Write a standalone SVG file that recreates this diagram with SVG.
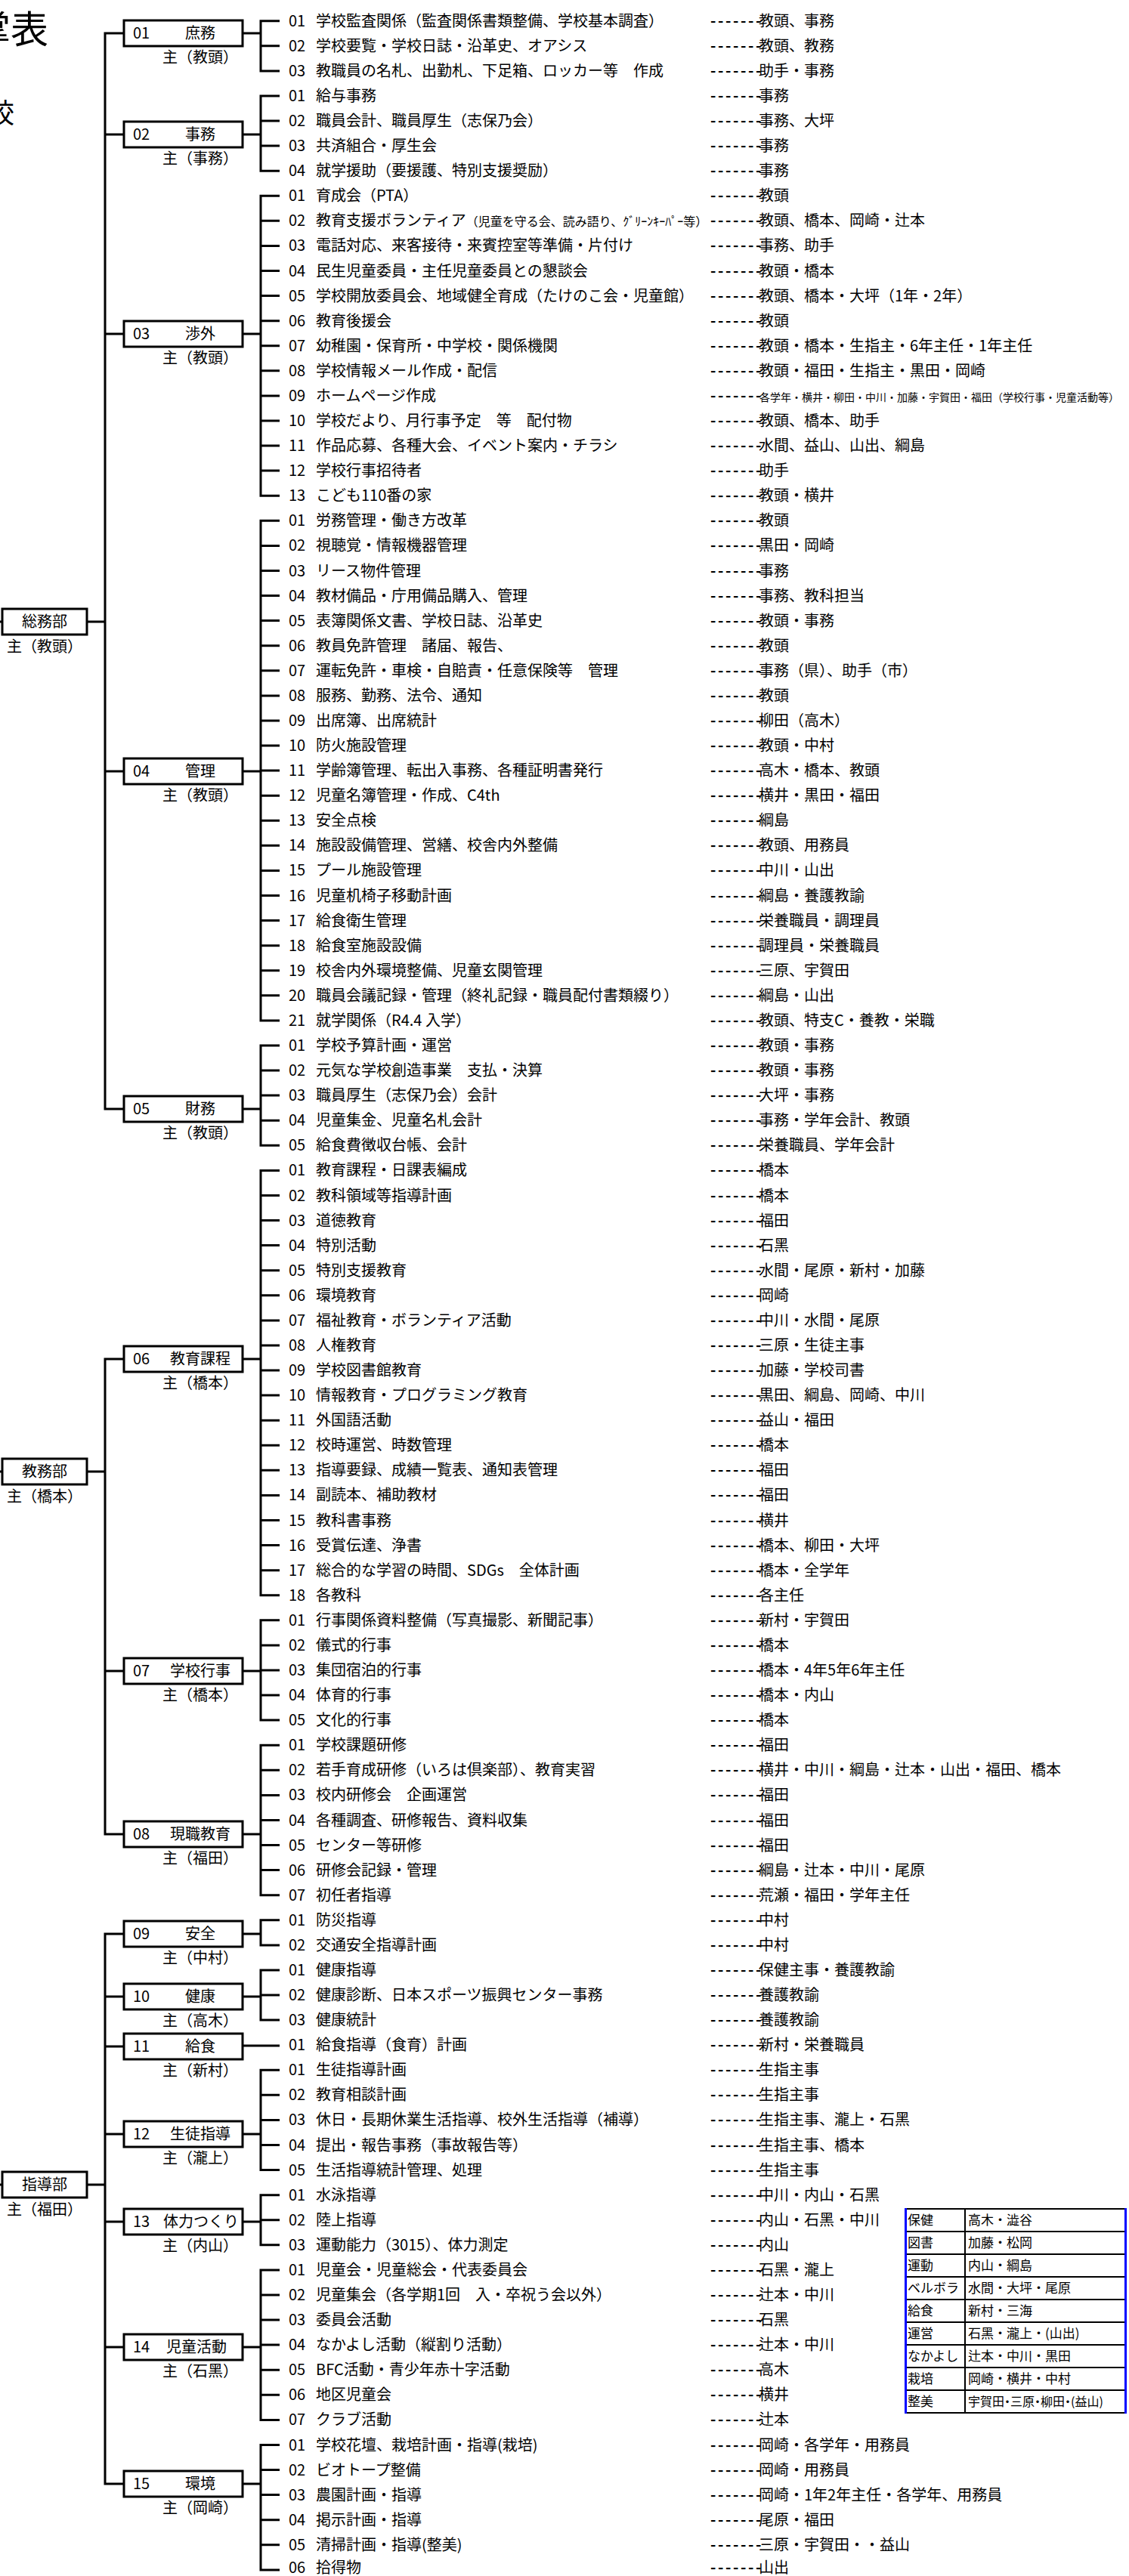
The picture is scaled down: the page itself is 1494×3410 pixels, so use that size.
<svg xmlns="http://www.w3.org/2000/svg" width="1494" height="3410" viewBox="0 0 1494 3410">
<style>
text{font-family:"Noto Sans CJK JP","Noto Sans",sans-serif;fill:#000}
.t,.p,.bx,.lb{font-size:20px}
.sm{font-size:16px}
.xs{font-size:14px}
.d{font-weight:bold;letter-spacing:2.6px}
.mid{text-anchor:middle}
.box{fill:#fff;stroke:#000;stroke-width:3}
.ln{fill:none;stroke:#000;stroke-width:3}
.lg{font-size:17px}
.pa{font-feature-settings:"palt" 1;font-size:16px}
</style>
<rect width="1494" height="3410" fill="#fff"/>
<g id="title">
<text x="64" y="57" font-size="50" text-anchor="end">掌表</text>
<text x="19" y="163" font-size="36" text-anchor="end">校</text>
</g>
<g id="connectors" class="ln">
<path d="M-2,823H3 M-2,1948H3 M-2,2892H3"/>
<path d="M115,823H139 M164,44H139V1468H164 M139,178H164 M139,442H164 M139,1021H164"/>
<path d="M115,1948H139 M164,1799H139V2428H164 M139,2212H164"/>
<path d="M115,2892H139 M164,2560H139V3288H164 M139,2643H164 M139,2709H164 M139,2825H164 M139,2941H164 M139,3107H164"/>
<path d="M370,27.7H345V93.9H370 M345,60.8h25 M321,44H345"/>
<path d="M370,126.9H345V226.2H370 M345,160h25 M345,193.1h25 M321,178H345"/>
<path d="M370,259.3H345V656.2H370 M345,292.3h25 M345,325.4h25 M345,358.5h25 M345,391.6h25 M345,424.7h25 M345,457.7h25 M345,490.8h25 M345,523.9h25 M345,557h25 M345,590.1h25 M345,623.1h25 M321,442H345"/>
<path d="M370,689.3H345V1350.9H370 M345,722.4h25 M345,755.5h25 M345,788.5h25 M345,821.6h25 M345,854.7h25 M345,887.8h25 M345,920.9h25 M345,953.9h25 M345,987h25 M345,1020.1h25 M345,1053.2h25 M345,1086.3h25 M345,1119.3h25 M345,1152.4h25 M345,1185.5h25 M345,1218.6h25 M345,1251.7h25 M345,1284.7h25 M345,1317.8h25 M321,1021H345"/>
<path d="M370,1384H345V1516.3H370 M345,1417.1h25 M345,1450.1h25 M345,1483.2h25 M321,1468H345"/>
<path d="M370,1549.4H345V2111.7H370 M345,1582.5h25 M345,1615.5h25 M345,1648.6h25 M345,1681.7h25 M345,1714.8h25 M345,1747.9h25 M345,1780.9h25 M345,1814h25 M345,1847.1h25 M345,1880.2h25 M345,1913.3h25 M345,1946.3h25 M345,1979.4h25 M345,2012.5h25 M345,2045.6h25 M345,2078.7h25 M321,1799H345"/>
<path d="M370,2144.8H345V2277.1H370 M345,2177.9h25 M345,2211h25 M345,2244.1h25 M321,2212H345"/>
<path d="M370,2310.2H345V2508.7H370 M345,2343.3h25 M345,2376.4h25 M345,2409.5h25 M345,2442.5h25 M345,2475.6h25 M321,2428H345"/>
<path d="M370,2541.8H345V2574.9H370 M321,2560H345"/>
<path d="M370,2607.9H345V2674.1H370 M345,2641h25 M321,2643H345"/>
<path d="M321,2708H370"/>
<path d="M370,2740.3H345V2872.6H370 M345,2773.3h25 M345,2806.4h25 M345,2839.5h25 M321,2825H345"/>
<path d="M370,2905.7H345V2971.8H370 M345,2938.8h25 M321,2941H345"/>
<path d="M370,3004.9H345V3203.4H370 M345,3038h25 M345,3071.1h25 M345,3104.1h25 M345,3137.2h25 M345,3170.3h25 M321,3107H345"/>
<path d="M370,3236.5H345V3401.9H370 M345,3269.5h25 M345,3302.6h25 M345,3335.7h25 M345,3368.8h25 M321,3288H345"/>
</g>
<g id="dept-soumu"><rect class="box" x="3" y="806" width="112" height="34"/><text class="bx mid" x="59" y="830">総務部</text><text class="lb mid" x="59" y="863">主（教頭）</text></g>
<g id="dept-kyomu"><rect class="box" x="3" y="1931" width="112" height="34"/><text class="bx mid" x="59" y="1955">教務部</text><text class="lb mid" x="59" y="1988">主（橋本）</text></g>
<g id="dept-shido"><rect class="box" x="3" y="2875" width="112" height="34"/><text class="bx mid" x="59" y="2899">指導部</text><text class="lb mid" x="59" y="2932">主（福田）</text></g>
<g id="box-01"><rect class="box" x="164" y="27" width="157" height="34"/><text class="bx" x="176" y="51">01</text><text class="bx mid" x="265" y="51">庶務</text><text class="lb mid" x="265" y="83">主（教頭）</text></g>
<g id="box-02"><rect class="box" x="164" y="161" width="157" height="34"/><text class="bx" x="176" y="185">02</text><text class="bx mid" x="265" y="185">事務</text><text class="lb mid" x="265" y="217">主（事務）</text></g>
<g id="box-03"><rect class="box" x="164" y="425" width="157" height="34"/><text class="bx" x="176" y="449">03</text><text class="bx mid" x="265" y="449">渉外</text><text class="lb mid" x="265" y="481">主（教頭）</text></g>
<g id="box-04"><rect class="box" x="164" y="1004" width="157" height="34"/><text class="bx" x="176" y="1028">04</text><text class="bx mid" x="265" y="1028">管理</text><text class="lb mid" x="265" y="1060">主（教頭）</text></g>
<g id="box-05"><rect class="box" x="164" y="1451" width="157" height="34"/><text class="bx" x="176" y="1475">05</text><text class="bx mid" x="265" y="1475">財務</text><text class="lb mid" x="265" y="1507">主（教頭）</text></g>
<g id="box-06"><rect class="box" x="164" y="1782" width="157" height="34"/><text class="bx" x="176" y="1806">06</text><text class="bx mid" x="265" y="1806">教育課程</text><text class="lb mid" x="265" y="1838">主（橋本）</text></g>
<g id="box-07"><rect class="box" x="164" y="2195" width="157" height="34"/><text class="bx" x="176" y="2219">07</text><text class="bx mid" x="265" y="2219">学校行事</text><text class="lb mid" x="265" y="2251">主（橋本）</text></g>
<g id="box-08"><rect class="box" x="164" y="2411" width="157" height="34"/><text class="bx" x="176" y="2435">08</text><text class="bx mid" x="265" y="2435">現職教育</text><text class="lb mid" x="265" y="2467">主（福田）</text></g>
<g id="box-09"><rect class="box" x="164" y="2543" width="157" height="34"/><text class="bx" x="176" y="2567">09</text><text class="bx mid" x="265" y="2567">安全</text><text class="lb mid" x="265" y="2599">主（中村）</text></g>
<g id="box-10"><rect class="box" x="164" y="2626" width="157" height="34"/><text class="bx" x="176" y="2650">10</text><text class="bx mid" x="265" y="2650">健康</text><text class="lb mid" x="265" y="2682">主（高木）</text></g>
<g id="box-11"><rect class="box" x="164" y="2692" width="157" height="34"/><text class="bx" x="176" y="2716">11</text><text class="bx mid" x="265" y="2716">給食</text><text class="lb mid" x="265" y="2748">主（新村）</text></g>
<g id="box-12"><rect class="box" x="164" y="2808" width="157" height="34"/><text class="bx" x="176" y="2832">12</text><text class="bx mid" x="265" y="2832">生徒指導</text><text class="lb mid" x="265" y="2864">主（瀧上）</text></g>
<g id="box-13"><rect class="box" x="164" y="2924" width="157" height="34"/><text class="bx" x="176" y="2948">13</text><text class="bx mid" x="266" y="2948">体力つくり</text><text class="lb mid" x="265" y="2980">主（内山）</text></g>
<g id="box-14"><rect class="box" x="164" y="3090" width="157" height="34"/><text class="bx" x="176" y="3114">14</text><text class="bx mid" x="260" y="3114">児童活動</text><text class="lb mid" x="265" y="3146">主（石黑）</text></g>
<g id="box-15"><rect class="box" x="164" y="3271" width="157" height="34"/><text class="bx" x="176" y="3295">15</text><text class="bx mid" x="265" y="3295">環境</text><text class="lb mid" x="265" y="3327">主（岡崎）</text></g>
<g id="tasks">
<text class="t" y="34.7"><tspan x="382">01</tspan><tspan x="418">学校監査関係（監査関係書類整備、学校基本調査）</tspan></text>
<text class="t" y="67.8"><tspan x="382">02</tspan><tspan x="418">学校要覧・学校日誌・沿革史、オアシス</tspan></text>
<text class="t" y="100.9"><tspan x="382">03</tspan><tspan x="418">教職員の名札、出勤札、下足箱、ロッカー等　作成</tspan></text>
<text class="t" y="133.9"><tspan x="382">01</tspan><tspan x="418">給与事務</tspan></text>
<text class="t" y="167"><tspan x="382">02</tspan><tspan x="418">職員会計、職員厚生（志保乃会）</tspan></text>
<text class="t" y="200.1"><tspan x="382">03</tspan><tspan x="418">共済組合・厚生会</tspan></text>
<text class="t" y="233.2"><tspan x="382">04</tspan><tspan x="418">就学援助（要援護、特別支援奨励）</tspan></text>
<text class="t" y="266.3"><tspan x="382">01</tspan><tspan x="418">育成会（PTA）</tspan></text>
<text class="t" y="299.3"><tspan x="382">02</tspan><tspan x="418">教育支援ボランティア</tspan><tspan class="sm">（児童を守る会、読み語り、ｸﾞﾘｰﾝｷｰﾊﾟｰ等）</tspan></text>
<text class="t" y="332.4"><tspan x="382">03</tspan><tspan x="418">電話対応、来客接待・来賓控室等準備・片付け</tspan></text>
<text class="t" y="365.5"><tspan x="382">04</tspan><tspan x="418">民生児童委員・主任児童委員との懇談会</tspan></text>
<text class="t" y="398.6"><tspan x="382">05</tspan><tspan x="418">学校開放委員会、地域健全育成（たけのこ会・児童館）</tspan></text>
<text class="t" y="431.7"><tspan x="382">06</tspan><tspan x="418">教育後援会</tspan></text>
<text class="t" y="464.7"><tspan x="382">07</tspan><tspan x="418">幼稚園・保育所・中学校・関係機関</tspan></text>
<text class="t" y="497.8"><tspan x="382">08</tspan><tspan x="418">学校情報メール作成・配信</tspan></text>
<text class="t" y="530.9"><tspan x="382">09</tspan><tspan x="418">ホームページ作成</tspan></text>
<text class="t" y="564"><tspan x="382">10</tspan><tspan x="418">学校だより、月行事予定　等　配付物</tspan></text>
<text class="t" y="597.1"><tspan x="382">11</tspan><tspan x="418">作品応募、各種大会、イベント案内・チラシ</tspan></text>
<text class="t" y="630.1"><tspan x="382">12</tspan><tspan x="418">学校行事招待者</tspan></text>
<text class="t" y="663.2"><tspan x="382">13</tspan><tspan x="418">こども110番の家</tspan></text>
<text class="t" y="696.3"><tspan x="382">01</tspan><tspan x="418">労務管理・働き方改革</tspan></text>
<text class="t" y="729.4"><tspan x="382">02</tspan><tspan x="418">視聴覚・情報機器管理</tspan></text>
<text class="t" y="762.5"><tspan x="382">03</tspan><tspan x="418">リース物件管理</tspan></text>
<text class="t" y="795.5"><tspan x="382">04</tspan><tspan x="418">教材備品・庁用備品購入、管理</tspan></text>
<text class="t" y="828.6"><tspan x="382">05</tspan><tspan x="418">表簿関係文書、学校日誌、沿革史</tspan></text>
<text class="t" y="861.7"><tspan x="382">06</tspan><tspan x="418">教員免許管理　諸届、報告、</tspan></text>
<text class="t" y="894.8"><tspan x="382">07</tspan><tspan x="418">運転免許・車検・自賠責・任意保険等　管理</tspan></text>
<text class="t" y="927.9"><tspan x="382">08</tspan><tspan x="418">服務、勤務、法令、通知</tspan></text>
<text class="t" y="960.9"><tspan x="382">09</tspan><tspan x="418">出席簿、出席統計</tspan></text>
<text class="t" y="994"><tspan x="382">10</tspan><tspan x="418">防火施設管理</tspan></text>
<text class="t" y="1027.1"><tspan x="382">11</tspan><tspan x="418">学齢簿管理、転出入事務、各種証明書発行</tspan></text>
<text class="t" y="1060.2"><tspan x="382">12</tspan><tspan x="418">児童名簿管理・作成、C4th</tspan></text>
<text class="t" y="1093.3"><tspan x="382">13</tspan><tspan x="418">安全点検</tspan></text>
<text class="t" y="1126.3"><tspan x="382">14</tspan><tspan x="418">施設設備管理、営繕、校舎内外整備</tspan></text>
<text class="t" y="1159.4"><tspan x="382">15</tspan><tspan x="418">プール施設管理</tspan></text>
<text class="t" y="1192.5"><tspan x="382">16</tspan><tspan x="418">児童机椅子移動計画</tspan></text>
<text class="t" y="1225.6"><tspan x="382">17</tspan><tspan x="418">給食衛生管理</tspan></text>
<text class="t" y="1258.7"><tspan x="382">18</tspan><tspan x="418">給食室施設設備</tspan></text>
<text class="t" y="1291.7"><tspan x="382">19</tspan><tspan x="418">校舎内外環境整備、児童玄関管理</tspan></text>
<text class="t" y="1324.8"><tspan x="382">20</tspan><tspan x="418">職員会議記録・管理（終礼記録・職員配付書類綴り）</tspan></text>
<text class="t" y="1357.9"><tspan x="382">21</tspan><tspan x="418">就学関係（R4.4 入学）</tspan></text>
<text class="t" y="1391"><tspan x="382">01</tspan><tspan x="418">学校予算計画・運営</tspan></text>
<text class="t" y="1424.1"><tspan x="382">02</tspan><tspan x="418">元気な学校創造事業　支払・決算</tspan></text>
<text class="t" y="1457.1"><tspan x="382">03</tspan><tspan x="418">職員厚生（志保乃会）会計</tspan></text>
<text class="t" y="1490.2"><tspan x="382">04</tspan><tspan x="418">児童集金、児童名札会計</tspan></text>
<text class="t" y="1523.3"><tspan x="382">05</tspan><tspan x="418">給食費徴収台帳、会計</tspan></text>
<text class="t" y="1556.4"><tspan x="382">01</tspan><tspan x="418">教育課程・日課表編成</tspan></text>
<text class="t" y="1589.5"><tspan x="382">02</tspan><tspan x="418">教科領域等指導計画</tspan></text>
<text class="t" y="1622.5"><tspan x="382">03</tspan><tspan x="418">道徳教育</tspan></text>
<text class="t" y="1655.6"><tspan x="382">04</tspan><tspan x="418">特別活動</tspan></text>
<text class="t" y="1688.7"><tspan x="382">05</tspan><tspan x="418">特別支援教育</tspan></text>
<text class="t" y="1721.8"><tspan x="382">06</tspan><tspan x="418">環境教育</tspan></text>
<text class="t" y="1754.9"><tspan x="382">07</tspan><tspan x="418">福祉教育・ボランティア活動</tspan></text>
<text class="t" y="1787.9"><tspan x="382">08</tspan><tspan x="418">人権教育</tspan></text>
<text class="t" y="1821"><tspan x="382">09</tspan><tspan x="418">学校図書館教育</tspan></text>
<text class="t" y="1854.1"><tspan x="382">10</tspan><tspan x="418">情報教育・プログラミング教育</tspan></text>
<text class="t" y="1887.2"><tspan x="382">11</tspan><tspan x="418">外国語活動</tspan></text>
<text class="t" y="1920.3"><tspan x="382">12</tspan><tspan x="418">校時運営、時数管理</tspan></text>
<text class="t" y="1953.3"><tspan x="382">13</tspan><tspan x="418">指導要録、成績一覧表、通知表管理</tspan></text>
<text class="t" y="1986.4"><tspan x="382">14</tspan><tspan x="418">副読本、補助教材</tspan></text>
<text class="t" y="2019.5"><tspan x="382">15</tspan><tspan x="418">教科書事務</tspan></text>
<text class="t" y="2052.6"><tspan x="382">16</tspan><tspan x="418">受賞伝達、浄書</tspan></text>
<text class="t" y="2085.7"><tspan x="382">17</tspan><tspan x="418">総合的な学習の時間、SDGs　全体計画</tspan></text>
<text class="t" y="2118.7"><tspan x="382">18</tspan><tspan x="418">各教科</tspan></text>
<text class="t" y="2151.8"><tspan x="382">01</tspan><tspan x="418">行事関係資料整備（写真撮影、新聞記事）</tspan></text>
<text class="t" y="2184.9"><tspan x="382">02</tspan><tspan x="418">儀式的行事</tspan></text>
<text class="t" y="2218"><tspan x="382">03</tspan><tspan x="418">集団宿泊的行事</tspan></text>
<text class="t" y="2251.1"><tspan x="382">04</tspan><tspan x="418">体育的行事</tspan></text>
<text class="t" y="2284.1"><tspan x="382">05</tspan><tspan x="418">文化的行事</tspan></text>
<text class="t" y="2317.2"><tspan x="382">01</tspan><tspan x="418">学校課題研修</tspan></text>
<text class="t" y="2350.3"><tspan x="382">02</tspan><tspan x="418">若手育成研修（いろは倶楽部）、教育実習</tspan></text>
<text class="t" y="2383.4"><tspan x="382">03</tspan><tspan x="418">校内研修会　企画運営</tspan></text>
<text class="t" y="2416.5"><tspan x="382">04</tspan><tspan x="418">各種調査、研修報告、資料収集</tspan></text>
<text class="t" y="2449.5"><tspan x="382">05</tspan><tspan x="418">センター等研修</tspan></text>
<text class="t" y="2482.6"><tspan x="382">06</tspan><tspan x="418">研修会記録・管理</tspan></text>
<text class="t" y="2515.7"><tspan x="382">07</tspan><tspan x="418">初任者指導</tspan></text>
<text class="t" y="2548.8"><tspan x="382">01</tspan><tspan x="418">防災指導</tspan></text>
<text class="t" y="2581.9"><tspan x="382">02</tspan><tspan x="418">交通安全指導計画</tspan></text>
<text class="t" y="2614.9"><tspan x="382">01</tspan><tspan x="418">健康指導</tspan></text>
<text class="t" y="2648"><tspan x="382">02</tspan><tspan x="418">健康診断、日本スポーツ振興センター事務</tspan></text>
<text class="t" y="2681.1"><tspan x="382">03</tspan><tspan x="418">健康統計</tspan></text>
<text class="t" y="2714.2"><tspan x="382">01</tspan><tspan x="418">給食指導（食育）計画</tspan></text>
<text class="t" y="2747.3"><tspan x="382">01</tspan><tspan x="418">生徒指導計画</tspan></text>
<text class="t" y="2780.3"><tspan x="382">02</tspan><tspan x="418">教育相談計画</tspan></text>
<text class="t" y="2813.4"><tspan x="382">03</tspan><tspan x="418">休日・長期休業生活指導、校外生活指導（補導）</tspan></text>
<text class="t" y="2846.5"><tspan x="382">04</tspan><tspan x="418">提出・報告事務（事故報告等）</tspan></text>
<text class="t" y="2879.6"><tspan x="382">05</tspan><tspan x="418">生活指導統計管理、処理</tspan></text>
<text class="t" y="2912.7"><tspan x="382">01</tspan><tspan x="418">水泳指導</tspan></text>
<text class="t" y="2945.7"><tspan x="382">02</tspan><tspan x="418">陸上指導</tspan></text>
<text class="t" y="2978.8"><tspan x="382">03</tspan><tspan x="418">運動能力（3015）、体力測定</tspan></text>
<text class="t" y="3011.9"><tspan x="382">01</tspan><tspan x="418">児童会・児童総会・代表委員会</tspan></text>
<text class="t" y="3045"><tspan x="382">02</tspan><tspan x="418">児童集会（各学期1回　入・卒祝う会以外）</tspan></text>
<text class="t" y="3078.1"><tspan x="382">03</tspan><tspan x="418">委員会活動</tspan></text>
<text class="t" y="3111.1"><tspan x="382">04</tspan><tspan x="418">なかよし活動（縦割り活動）</tspan></text>
<text class="t" y="3144.2"><tspan x="382">05</tspan><tspan x="418">BFC活動・青少年赤十字活動</tspan></text>
<text class="t" y="3177.3"><tspan x="382">06</tspan><tspan x="418">地区児童会</tspan></text>
<text class="t" y="3210.4"><tspan x="382">07</tspan><tspan x="418">クラブ活動</tspan></text>
<text class="t" y="3243.5"><tspan x="382">01</tspan><tspan x="418">学校花壇、栽培計画・指導(栽培)</tspan></text>
<text class="t" y="3276.5"><tspan x="382">02</tspan><tspan x="418">ビオトープ整備</tspan></text>
<text class="t" y="3309.6"><tspan x="382">03</tspan><tspan x="418">農園計画・指導</tspan></text>
<text class="t" y="3342.7"><tspan x="382">04</tspan><tspan x="418">掲示計画・指導</tspan></text>
<text class="t" y="3375.8"><tspan x="382">05</tspan><tspan x="418">清掃計画・指導(整美)</tspan></text>
<text class="t" y="3406"><tspan x="382">06</tspan><tspan x="418">拾得物</tspan></text>
</g>
<g id="persons">
<text class="p" y="34.7"><tspan class="d" x="940">-------</tspan><tspan x="1004">教頭、事務</tspan></text>
<text class="p" y="67.8"><tspan class="d" x="940">-------</tspan><tspan x="1004">教頭、教務</tspan></text>
<text class="p" y="100.9"><tspan class="d" x="940">-------</tspan><tspan x="1004">助手・事務</tspan></text>
<text class="p" y="133.9"><tspan class="d" x="940">-------</tspan><tspan x="1004">事務</tspan></text>
<text class="p" y="167"><tspan class="d" x="940">-------</tspan><tspan x="1004">事務、大坪</tspan></text>
<text class="p" y="200.1"><tspan class="d" x="940">-------</tspan><tspan x="1004">事務</tspan></text>
<text class="p" y="233.2"><tspan class="d" x="940">-------</tspan><tspan x="1004">事務</tspan></text>
<text class="p" y="266.3"><tspan class="d" x="940">-------</tspan><tspan x="1004">教頭</tspan></text>
<text class="p" y="299.3"><tspan class="d" x="940">-------</tspan><tspan x="1004">教頭、橋本、岡崎・辻本</tspan></text>
<text class="p" y="332.4"><tspan class="d" x="940">-------</tspan><tspan x="1004">事務、助手</tspan></text>
<text class="p" y="365.5"><tspan class="d" x="940">-------</tspan><tspan x="1004">教頭・橋本</tspan></text>
<text class="p" y="398.6"><tspan class="d" x="940">-------</tspan><tspan x="1004">教頭、橋本・大坪（1年・2年）</tspan></text>
<text class="p" y="431.7"><tspan class="d" x="940">-------</tspan><tspan x="1004">教頭</tspan></text>
<text class="p" y="464.7"><tspan class="d" x="940">-------</tspan><tspan x="1004">教頭・橋本・生指主・6年主任・1年主任</tspan></text>
<text class="p" y="497.8"><tspan class="d" x="940">-------</tspan><tspan x="1004">教頭・福田・生指主・黒田・岡崎</tspan></text>
<text class="p" y="530.9"><tspan class="d" x="940">-------</tspan><tspan x="1005" class="xs">各学年・横井・柳田・中川・加藤・宇賀田・福田（学校行事・児童活動等）</tspan></text>
<text class="p" y="564"><tspan class="d" x="940">-------</tspan><tspan x="1004">教頭、橋本、助手</tspan></text>
<text class="p" y="597.1"><tspan class="d" x="940">-------</tspan><tspan x="1004">水間、益山、山出、綱島</tspan></text>
<text class="p" y="630.1"><tspan class="d" x="940">-------</tspan><tspan x="1004">助手</tspan></text>
<text class="p" y="663.2"><tspan class="d" x="940">-------</tspan><tspan x="1004">教頭・横井</tspan></text>
<text class="p" y="696.3"><tspan class="d" x="940">-------</tspan><tspan x="1004">教頭</tspan></text>
<text class="p" y="729.4"><tspan class="d" x="940">-------</tspan><tspan x="1004">黒田・岡崎</tspan></text>
<text class="p" y="762.5"><tspan class="d" x="940">-------</tspan><tspan x="1004">事務</tspan></text>
<text class="p" y="795.5"><tspan class="d" x="940">-------</tspan><tspan x="1004">事務、教科担当</tspan></text>
<text class="p" y="828.6"><tspan class="d" x="940">-------</tspan><tspan x="1004">教頭・事務</tspan></text>
<text class="p" y="861.7"><tspan class="d" x="940">-------</tspan><tspan x="1004">教頭</tspan></text>
<text class="p" y="894.8"><tspan class="d" x="940">-------</tspan><tspan x="1004">事務（県）、助手（市）</tspan></text>
<text class="p" y="927.9"><tspan class="d" x="940">-------</tspan><tspan x="1004">教頭</tspan></text>
<text class="p" y="960.9"><tspan class="d" x="940">-------</tspan><tspan x="1004">柳田（高木）</tspan></text>
<text class="p" y="994"><tspan class="d" x="940">-------</tspan><tspan x="1004">教頭・中村</tspan></text>
<text class="p" y="1027.1"><tspan class="d" x="940">-------</tspan><tspan x="1004">高木・橋本、教頭</tspan></text>
<text class="p" y="1060.2"><tspan class="d" x="940">-------</tspan><tspan x="1004">横井・黒田・福田</tspan></text>
<text class="p" y="1093.3"><tspan class="d" x="940">-------</tspan><tspan x="1004">綱島</tspan></text>
<text class="p" y="1126.3"><tspan class="d" x="940">-------</tspan><tspan x="1004">教頭、用務員</tspan></text>
<text class="p" y="1159.4"><tspan class="d" x="940">-------</tspan><tspan x="1004">中川・山出</tspan></text>
<text class="p" y="1192.5"><tspan class="d" x="940">-------</tspan><tspan x="1004">綱島・養護教諭</tspan></text>
<text class="p" y="1225.6"><tspan class="d" x="940">-------</tspan><tspan x="1004">栄養職員・調理員</tspan></text>
<text class="p" y="1258.7"><tspan class="d" x="940">-------</tspan><tspan x="1004">調理員・栄養職員</tspan></text>
<text class="p" y="1291.7"><tspan class="d" x="940">-------</tspan><tspan x="1004">三原、宇賀田</tspan></text>
<text class="p" y="1324.8"><tspan class="d" x="940">-------</tspan><tspan x="1004">綱島・山出</tspan></text>
<text class="p" y="1357.9"><tspan class="d" x="940">-------</tspan><tspan x="1004">教頭、特支C・養教・栄職</tspan></text>
<text class="p" y="1391"><tspan class="d" x="940">-------</tspan><tspan x="1004">教頭・事務</tspan></text>
<text class="p" y="1424.1"><tspan class="d" x="940">-------</tspan><tspan x="1004">教頭・事務</tspan></text>
<text class="p" y="1457.1"><tspan class="d" x="940">-------</tspan><tspan x="1004">大坪・事務</tspan></text>
<text class="p" y="1490.2"><tspan class="d" x="940">-------</tspan><tspan x="1004">事務・学年会計、教頭</tspan></text>
<text class="p" y="1523.3"><tspan class="d" x="940">-------</tspan><tspan x="1004">栄養職員、学年会計</tspan></text>
<text class="p" y="1556.4"><tspan class="d" x="940">-------</tspan><tspan x="1004">橋本</tspan></text>
<text class="p" y="1589.5"><tspan class="d" x="940">-------</tspan><tspan x="1004">橋本</tspan></text>
<text class="p" y="1622.5"><tspan class="d" x="940">-------</tspan><tspan x="1004">福田</tspan></text>
<text class="p" y="1655.6"><tspan class="d" x="940">-------</tspan><tspan x="1004">石黑</tspan></text>
<text class="p" y="1688.7"><tspan class="d" x="940">-------</tspan><tspan x="1004">水間・尾原・新村・加藤</tspan></text>
<text class="p" y="1721.8"><tspan class="d" x="940">-------</tspan><tspan x="1004">岡崎</tspan></text>
<text class="p" y="1754.9"><tspan class="d" x="940">-------</tspan><tspan x="1004">中川・水間・尾原</tspan></text>
<text class="p" y="1787.9"><tspan class="d" x="940">-------</tspan><tspan x="1004">三原・生徒主事</tspan></text>
<text class="p" y="1821"><tspan class="d" x="940">-------</tspan><tspan x="1004">加藤・学校司書</tspan></text>
<text class="p" y="1854.1"><tspan class="d" x="940">-------</tspan><tspan x="1004">黒田、綱島、岡崎、中川</tspan></text>
<text class="p" y="1887.2"><tspan class="d" x="940">-------</tspan><tspan x="1004">益山・福田</tspan></text>
<text class="p" y="1920.3"><tspan class="d" x="940">-------</tspan><tspan x="1004">橋本</tspan></text>
<text class="p" y="1953.3"><tspan class="d" x="940">-------</tspan><tspan x="1004">福田</tspan></text>
<text class="p" y="1986.4"><tspan class="d" x="940">-------</tspan><tspan x="1004">福田</tspan></text>
<text class="p" y="2019.5"><tspan class="d" x="940">-------</tspan><tspan x="1004">横井</tspan></text>
<text class="p" y="2052.6"><tspan class="d" x="940">-------</tspan><tspan x="1004">橋本、柳田・大坪</tspan></text>
<text class="p" y="2085.7"><tspan class="d" x="940">-------</tspan><tspan x="1004">橋本・全学年</tspan></text>
<text class="p" y="2118.7"><tspan class="d" x="940">-------</tspan><tspan x="1004">各主任</tspan></text>
<text class="p" y="2151.8"><tspan class="d" x="940">-------</tspan><tspan x="1004">新村・宇賀田</tspan></text>
<text class="p" y="2184.9"><tspan class="d" x="940">-------</tspan><tspan x="1004">橋本</tspan></text>
<text class="p" y="2218"><tspan class="d" x="940">-------</tspan><tspan x="1004">橋本・4年5年6年主任</tspan></text>
<text class="p" y="2251.1"><tspan class="d" x="940">-------</tspan><tspan x="1004">橋本・内山</tspan></text>
<text class="p" y="2284.1"><tspan class="d" x="940">-------</tspan><tspan x="1004">橋本</tspan></text>
<text class="p" y="2317.2"><tspan class="d" x="940">-------</tspan><tspan x="1004">福田</tspan></text>
<text class="p" y="2350.3"><tspan class="d" x="940">-------</tspan><tspan x="1004">横井・中川・綱島・辻本・山出・福田、橋本</tspan></text>
<text class="p" y="2383.4"><tspan class="d" x="940">-------</tspan><tspan x="1004">福田</tspan></text>
<text class="p" y="2416.5"><tspan class="d" x="940">-------</tspan><tspan x="1004">福田</tspan></text>
<text class="p" y="2449.5"><tspan class="d" x="940">-------</tspan><tspan x="1004">福田</tspan></text>
<text class="p" y="2482.6"><tspan class="d" x="940">-------</tspan><tspan x="1004">綱島・辻本・中川・尾原</tspan></text>
<text class="p" y="2515.7"><tspan class="d" x="940">-------</tspan><tspan x="1004">荒瀬・福田・学年主任</tspan></text>
<text class="p" y="2548.8"><tspan class="d" x="940">-------</tspan><tspan x="1004">中村</tspan></text>
<text class="p" y="2581.9"><tspan class="d" x="940">-------</tspan><tspan x="1004">中村</tspan></text>
<text class="p" y="2614.9"><tspan class="d" x="940">-------</tspan><tspan x="1004">保健主事・養護教諭</tspan></text>
<text class="p" y="2648"><tspan class="d" x="940">-------</tspan><tspan x="1004">養護教諭</tspan></text>
<text class="p" y="2681.1"><tspan class="d" x="940">-------</tspan><tspan x="1004">養護教諭</tspan></text>
<text class="p" y="2714.2"><tspan class="d" x="940">-------</tspan><tspan x="1004">新村・栄養職員</tspan></text>
<text class="p" y="2747.3"><tspan class="d" x="940">-------</tspan><tspan x="1004">生指主事</tspan></text>
<text class="p" y="2780.3"><tspan class="d" x="940">-------</tspan><tspan x="1004">生指主事</tspan></text>
<text class="p" y="2813.4"><tspan class="d" x="940">-------</tspan><tspan x="1004">生指主事、瀧上・石黑</tspan></text>
<text class="p" y="2846.5"><tspan class="d" x="940">-------</tspan><tspan x="1004">生指主事、橋本</tspan></text>
<text class="p" y="2879.6"><tspan class="d" x="940">-------</tspan><tspan x="1004">生指主事</tspan></text>
<text class="p" y="2912.7"><tspan class="d" x="940">-------</tspan><tspan x="1004">中川・内山・石黑</tspan></text>
<text class="p" y="2945.7"><tspan class="d" x="940">-------</tspan><tspan x="1004">内山・石黑・中川</tspan></text>
<text class="p" y="2978.8"><tspan class="d" x="940">-------</tspan><tspan x="1004">内山</tspan></text>
<text class="p" y="3011.9"><tspan class="d" x="940">-------</tspan><tspan x="1004">石黑・瀧上</tspan></text>
<text class="p" y="3045"><tspan class="d" x="940">-------</tspan><tspan x="1004">辻本・中川</tspan></text>
<text class="p" y="3078.1"><tspan class="d" x="940">-------</tspan><tspan x="1004">石黑</tspan></text>
<text class="p" y="3111.1"><tspan class="d" x="940">-------</tspan><tspan x="1004">辻本・中川</tspan></text>
<text class="p" y="3144.2"><tspan class="d" x="940">-------</tspan><tspan x="1004">高木</tspan></text>
<text class="p" y="3177.3"><tspan class="d" x="940">-------</tspan><tspan x="1004">横井</tspan></text>
<text class="p" y="3210.4"><tspan class="d" x="940">-------</tspan><tspan x="1004">辻本</tspan></text>
<text class="p" y="3243.5"><tspan class="d" x="940">-------</tspan><tspan x="1004">岡崎・各学年・用務員</tspan></text>
<text class="p" y="3276.5"><tspan class="d" x="940">-------</tspan><tspan x="1004">岡崎・用務員</tspan></text>
<text class="p" y="3309.6"><tspan class="d" x="940">-------</tspan><tspan x="1004">岡崎・1年2年主任・各学年、用務員</tspan></text>
<text class="p" y="3342.7"><tspan class="d" x="940">-------</tspan><tspan x="1004">尾原・福田</tspan></text>
<text class="p" y="3375.8"><tspan class="d" x="940">-------</tspan><tspan x="1004">三原・宇賀田・・益山</tspan></text>
<text class="p" y="3406"><tspan class="d" x="940">-------</tspan><tspan x="1004">山出</tspan></text>
</g>
<g id="legend">
<rect x="1197" y="2924" width="294" height="270" fill="#fff"/>
<path d="M1197,2924H1491 M1197,2954H1491 M1197,2984H1491 M1197,3014H1491 M1197,3044H1491 M1197,3074H1491 M1197,3104H1491 M1197,3134H1491 M1197,3164H1491 M1197,3194H1491 M1277,2924V3194" fill="none" stroke="#000" stroke-width="2"/>
<path d="M1198.5,2923V3195 M1489.5,2923V3195" fill="none" stroke="#0000ff" stroke-width="3"/>
<text class="lg" x="1201" y="2945">保健</text><text class="lg" x="1281" y="2945">高木・澁谷</text>
<text class="lg" x="1201" y="2975">図書</text><text class="lg" x="1281" y="2975">加藤・松岡</text>
<text class="lg" x="1201" y="3005">運動</text><text class="lg" x="1281" y="3005">内山・綱島</text>
<text class="lg" x="1201" y="3035">ベルボラ</text><text class="lg" x="1281" y="3035">水間・大坪・尾原</text>
<text class="lg" x="1201" y="3065">給食</text><text class="lg" x="1281" y="3065">新村・三海</text>
<text class="lg" x="1201" y="3095">運営</text><text class="lg" x="1281" y="3095">石黑・瀧上・(山出)</text>
<text class="lg" x="1201" y="3125">なかよし</text><text class="lg" x="1281" y="3125">辻本・中川・黒田</text>
<text class="lg" x="1201" y="3155">栽培</text><text class="lg" x="1281" y="3155">岡崎・横井・中村</text>
<text class="lg" x="1201" y="3185">整美</text><text class="pa" x="1281" y="3185">宇賀田・三原・柳田・(益山)</text>
</g>
</svg>
